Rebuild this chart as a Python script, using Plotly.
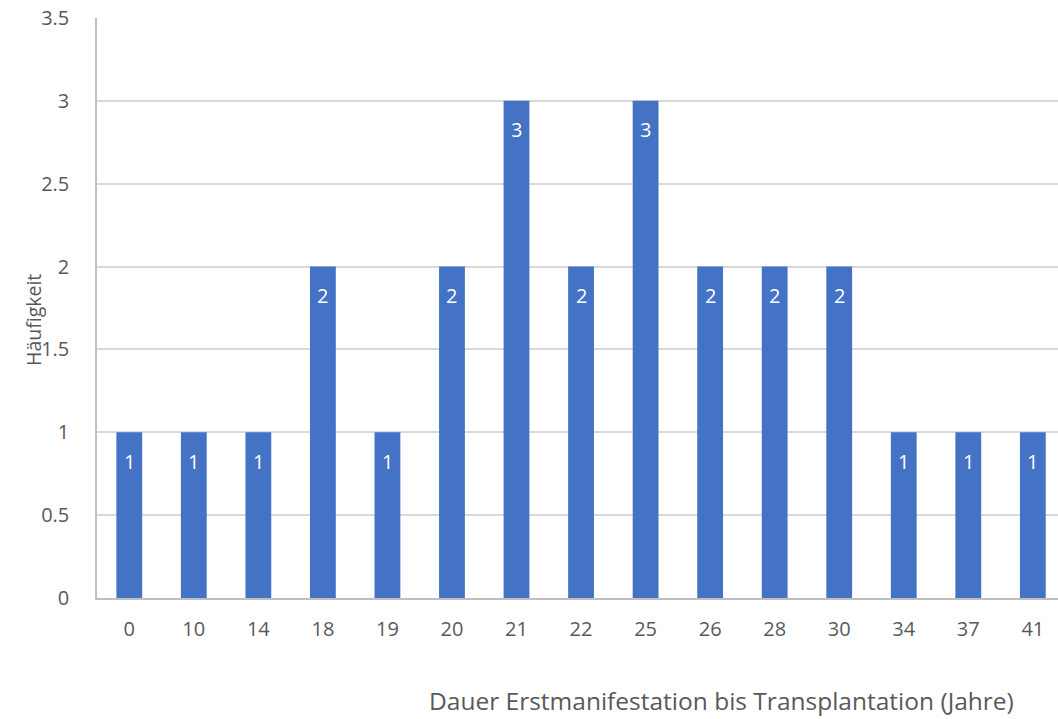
import plotly.graph_objects as go

categories = ["0", "10", "14", "18", "19", "20", "21", "22", "25", "26", "28", "30", "34", "37", "41"]
values = [1, 1, 1, 2, 1, 2, 3, 2, 3, 2, 2, 2, 1, 1, 1]

FONT = "Open Sans"
TXT = "#595959"
fig = go.Figure()
fig.add_trace(go.Bar(
    x=categories, y=values,
    marker=dict(color="#4472C4", line=dict(width=0)),
    width=0.4,
))
L, R, T, B = 97, 0, 18, 121
W, H = 1058, 719
pw, ph = W - L - R, H - T - B

annotations = [
    dict(text="Dauer Erstmanifestation bis Transplantation (Jahre)",
         x=(721 - L) / pw, y=(H - B - 700) / ph, xanchor="center", yanchor="middle",
         xref="paper", yref="paper", showarrow=False, font=dict(size=24.5, color=TXT)),
    dict(text="Häufigkeit", x=(33 - L) / pw, y=(H - B - 320) / ph, textangle=-90,
         xanchor="center", yanchor="middle",
         xref="paper", yref="paper", showarrow=False, font=dict(size=19.5, color=TXT)),
]
for i, v in enumerate(values):
    annotations.append(dict(text=str(v), x=i, y=v, xref="x", yref="y", showarrow=False,
                            xanchor="center", yanchor="middle", yshift=-29,
                            font=dict(size=20, color="white", family=FONT)))

fig.update_layout(
    width=W, height=H,
    margin=dict(l=L, r=R, t=T, b=B),
    paper_bgcolor="white", plot_bgcolor="white",
    showlegend=False,
    font=dict(family=FONT, color=TXT, size=20),
    xaxis=dict(type="category", range=[-0.5, 14.39], showgrid=False,
               showline=True, linecolor="#BFBFBF", linewidth=1.5,
               ticks="", tickfont=dict(size=20, color=TXT), ticklabelstandoff=12),
    yaxis=dict(range=[0, 3.5], dtick=0.5, showgrid=True, gridcolor="#D9D9D9", gridwidth=1.5,
               showline=True, linecolor="#BFBFBF", linewidth=1.5, zeroline=False,
               ticks="", tickfont=dict(size=20, color=TXT), ticklabelstandoff=22,
               tickformat="~g"),
    annotations=annotations,
)
fig.write_html("out.html")
